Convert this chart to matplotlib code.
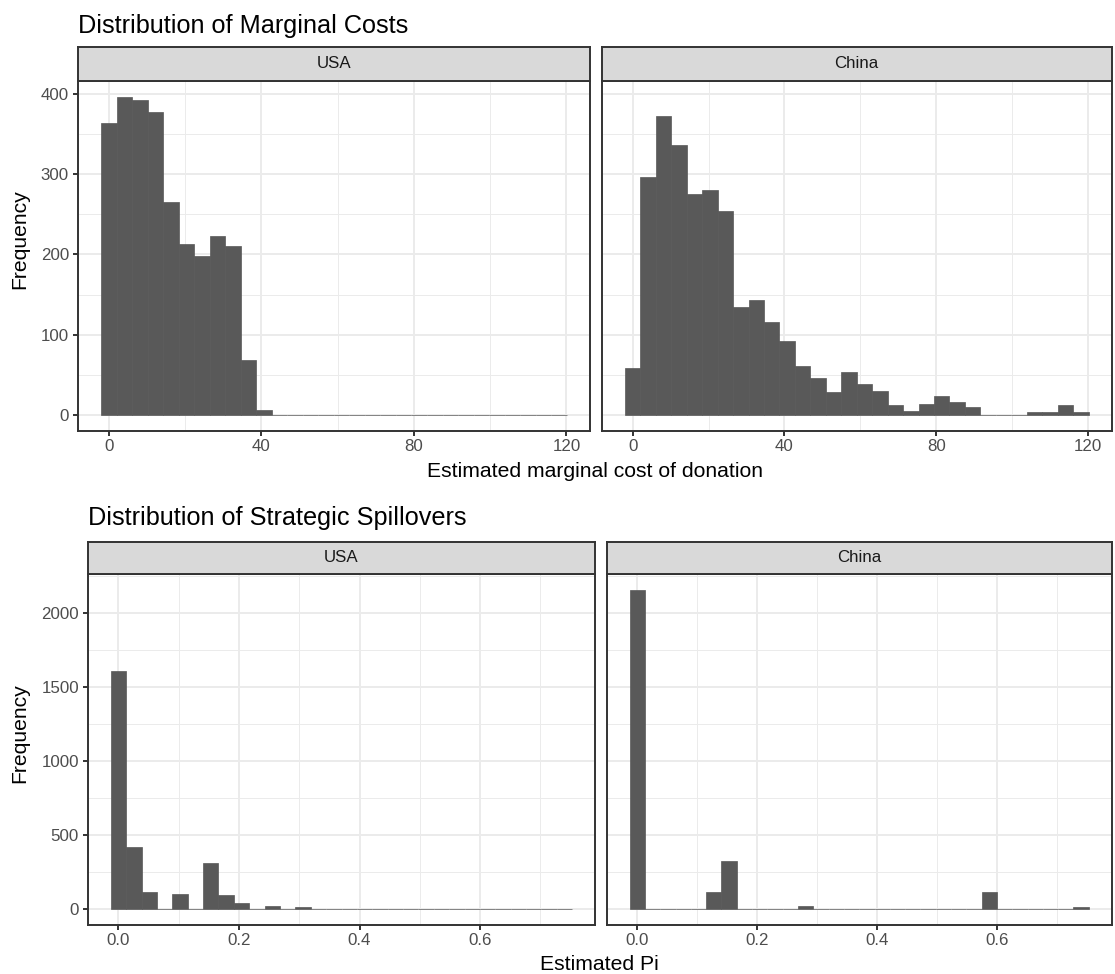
import numpy as np
import matplotlib
matplotlib.use("Agg")
import matplotlib.pyplot as plt

plt.rcParams['font.family'] = ['Liberation Sans', 'DejaVu Sans']

# ---------------- data ----------------
countries = ["USA", "China"]

# Marginal cost histogram (30 bins)
mc_bin_start = -2.03
mc_bin_width = 4.07
mc_usa = [364, 397, 393, 378, 266, 213, 198, 223, 211, 68, 6,
          0, 0, 0, 0, 0, 0, 0, 0, 0, 0, 0, 0, 0, 0, 0, 0, 0, 0, 0]
mc_china = [58, 297, 373, 336, 276, 280, 254, 134, 143, 116, 92, 61, 46, 28, 53,
            39, 30, 12, 5, 14, 24, 16, 10, 0, 0, 0, 3, 3, 12, 4]
mc_xticks = [0, 40, 80, 120]
mc_xminor = [20, 60, 100]
mc_yticks = [0, 100, 200, 300, 400]
mc_yminor = [50, 150, 250, 350]

# Pi histogram (30 bins)
pi_bin_start = -0.01276
pi_bin_width = 0.02552
pi_usa = [1607, 420, 110, 0, 103, 0, 312, 90, 36, 0, 20, 0, 9,
          0, 0, 0, 0, 0, 0, 0, 0, 0, 0, 0, 0, 0, 0, 0, 0, 0]
pi_china = [2153, 0, 0, 0, 0, 110, 326, 0, 0, 0, 0, 20, 0, 0, 0,
            0, 0, 0, 0, 0, 0, 0, 0, 110, 0, 0, 0, 0, 0, 9]
pi_xticks = [0.0, 0.2, 0.4, 0.6]
pi_xticklabels = ["0.0", "0.2", "0.4", "0.6"]
pi_xminor = [0.1, 0.3, 0.5, 0.7]
pi_yticks = [0, 500, 1000, 1500, 2000]
pi_yminor = [250, 750, 1250, 1750, 2250]

title_top = "Distribution of Marginal Costs"
title_bottom = "Distribution of Strategic Spillovers"
xlabel_top = "Estimated marginal cost of donation"
xlabel_bottom = "Estimated Pi"
ylabel = "Frequency"

# ---------------- style ----------------
W, H = 1115, 974
BAR = "#595959"
GRID = "#EBEBEB"
BORDER = "#333333"
STRIP = "#D9D9D9"
AXTXT = "#4D4D4D"

fig = plt.figure(figsize=(W / 100, H / 100), dpi=100)
fig.patch.set_facecolor("white")


def px_axes(x0, y0, x1, y1):
    return fig.add_axes([x0 / W, 1 - y1 / H, (x1 - x0) / W, (y1 - y0) / H])


def panel(rect, strip_rect, label, counts, start, width, xticks, xticklabels,
          xminor, yticks, yminor, show_y):
    ax = px_axes(*rect)
    n = len(counts)
    edges = start + width * np.arange(n + 1)
    lefts = edges[:-1]
    ax.bar(lefts, counts, width=width, align="edge", color=BAR,
           edgecolor=BAR, linewidth=0.5, zorder=3)
    lo, hi = edges[0], edges[-1]
    pad = (hi - lo) * 0.05
    ax.set_xlim(lo - pad, hi + pad)
    ymax = max(max(mc_usa), max(mc_china)) if start == mc_bin_start else max(max(pi_usa), max(pi_china))
    ax.set_ylim(-ymax * 0.05, ymax * 1.05)
    ax.set_xticks(xticks)
    ax.set_xticklabels(xticklabels)
    ax.set_xticks(xminor, minor=True)
    ax.set_yticks(yticks)
    ax.set_yticks(yminor, minor=True)
    ax.grid(which="major", color=GRID, linewidth=1.4, zorder=0)
    ax.grid(which="minor", color=GRID, linewidth=0.7, zorder=0)
    ax.set_axisbelow(True)
    for s in ax.spines.values():
        s.set_color(BORDER)
        s.set_linewidth(1.4)
        s.set_zorder(5)
    ax.tick_params(which="minor", length=0)
    ax.tick_params(which="major", length=3.8, width=1.4, color=BORDER,
                   labelsize=12.2, labelcolor=AXTXT, pad=2.5)
    if not show_y:
        ax.tick_params(axis="y", which="major", length=0, labelleft=False)
    # strip
    sx = px_axes(*strip_rect)
    sx.set_facecolor(STRIP)
    sx.set_xticks([])
    sx.set_yticks([])
    for s in sx.spines.values():
        s.set_color(BORDER)
        s.set_linewidth(1.4)
    sx.text(0.5, 0.5, label, ha="center", va="center", fontsize=12.2,
            color="#1A1A1A", transform=sx.transAxes)
    return ax


# ---- top figure ----
top_y0, top_y1 = 80.7, 430.7
strip_top = (47.3, 80.7)
top_cols = [(77.7, 590.0), (601.7, 1111.7)]
mc_data = [mc_usa, mc_china]
for i, (x0, x1) in enumerate(top_cols):
    panel((x0, top_y0, x1, top_y1), (x0, strip_top[0], x1, strip_top[1]),
          countries[i], mc_data[i], mc_bin_start, mc_bin_width,
          mc_xticks, [str(t) for t in mc_xticks], mc_xminor,
          mc_yticks, mc_yminor, show_y=(i == 0))

fig.text(77.7 / W, 1 - 32.5 / H, title_top, fontsize=18.2, color="black",
         ha="left", va="baseline")
fig.text((77.7 + 1111.7) / 2 / W, 1 - 471.7 / H, xlabel_top, fontsize=15.2,
         ha="center", va="center", color="black")
fig.text(19.5 / W, 1 - (47.3 + 430.7) / 2 / H, ylabel, fontsize=15.2,
         rotation=90, ha="center", va="center", color="black")

# ---- bottom figure ----
bot_y0, bot_y1 = 574.3, 924.7
strip_bot = (541.7, 574.3)
bot_cols = [(87.7, 595.3), (606.7, 1111.7)]
pi_data = [pi_usa, pi_china]
for i, (x0, x1) in enumerate(bot_cols):
    panel((x0, bot_y0, x1, bot_y1), (x0, strip_bot[0], x1, strip_bot[1]),
          countries[i], pi_data[i], pi_bin_start, pi_bin_width,
          pi_xticks, pi_xticklabels, pi_xminor,
          pi_yticks, pi_yminor, show_y=(i == 0))

fig.text(87.7 / W, 1 - 525.5 / H, title_bottom, fontsize=18.2, color="black",
         ha="left", va="baseline")
fig.text((87.7 + 1111.7) / 2 / W, 1 - 964 / H, xlabel_bottom, fontsize=15.2,
         ha="center", va="center", color="black")
fig.text(19.5 / W, 1 - (541.7 + 924.7) / 2 / H, ylabel, fontsize=15.2,
         rotation=90, ha="center", va="center", color="black")

fig.savefig("out.png", dpi=100, facecolor="white")
